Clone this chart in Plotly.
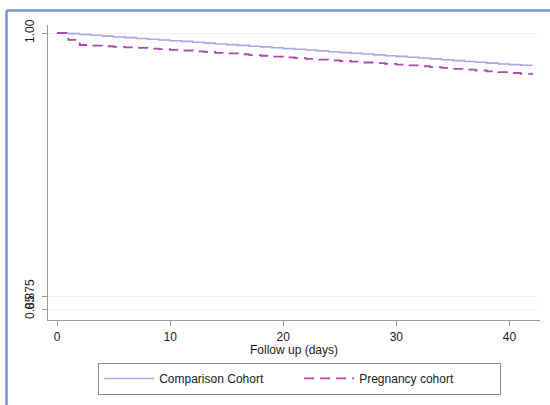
import plotly.graph_objects as go

days = list(range(0, 43))
comparison = [1.0000, 0.9997, 0.9993, 0.9989, 0.9985, 0.9981, 0.9978, 0.9974, 0.9970, 0.9967,
              0.9963, 0.9960, 0.9956, 0.9952, 0.9948, 0.9945, 0.9941, 0.9937, 0.9934, 0.9930,
              0.9926, 0.9923, 0.9919, 0.9915, 0.9911, 0.9907, 0.9904, 0.9900, 0.9896, 0.9892,
              0.9889, 0.9885, 0.9881, 0.9877, 0.9873, 0.9869, 0.9865, 0.9861, 0.9857, 0.9853,
              0.9850, 0.9847, 0.9844]
pregnancy = [1.0000, 0.9967, 0.9943, 0.9940, 0.9937, 0.9934, 0.9932, 0.9929, 0.9926, 0.9923,
             0.9920, 0.9917, 0.9913, 0.9910, 0.9906, 0.9903, 0.9899, 0.9895, 0.9892, 0.9888,
             0.9884, 0.9881, 0.9877, 0.9874, 0.9870, 0.9867, 0.9864, 0.9860, 0.9857, 0.9853,
             0.9850, 0.9846, 0.9842, 0.9838, 0.9834, 0.9830, 0.9826, 0.9822, 0.9818, 0.9814,
             0.9810, 0.9806, 0.9802]

y_tickvals = [0.8689, 0.875, 1.0]
y_ticktext = ["0.85", "0.875", "1.00"]
x_tickvals = [0, 10, 20, 30, 40]

font = "Liberation Sans, Arial, sans-serif"

fig = go.Figure()
fig.add_trace(go.Scatter(x=days, y=comparison, mode="lines", line_shape="hv",
                         name="Comparison Cohort",
                         line=dict(color="#a9a6e6", width=1.6)))
fig.add_trace(go.Scatter(x=days, y=pregnancy, mode="lines", line_shape="hv",
                         name="Pregnancy cohort",
                         line=dict(color="#b048b4", width=1.8, dash="10px,6px")))

fig.update_layout(
    width=550, height=405,
    margin=dict(l=48, r=10, t=25, b=83),
    paper_bgcolor="white", plot_bgcolor="white",
    font=dict(family=font, size=12, color="#1a1a1a"),
    showlegend=True,
    legend=dict(orientation="h", x=0.1016, xanchor="left", y=-0.145, yanchor="top",
                bordercolor="#8a8a8a", borderwidth=1.2, font=dict(size=12),
                entrywidth=135, entrywidthmode="pixels", itemwidth=50,
                tracegroupgap=0),
    xaxis=dict(range=[-0.8, 42.7], tickvals=x_tickvals, ticks="outside", ticklen=5,
               tickcolor="#999", showline=True, linecolor="#999", linewidth=1.2,
               showgrid=False, zeroline=False,
               title=dict(text="Follow up (days)", font=dict(size=12), standoff=2),
               tickfont=dict(size=12)),
    yaxis=dict(range=[0.8637, 1.0038], tickvals=y_tickvals, ticktext=y_ticktext,
               ticks="outside", ticklen=5, tickcolor="#999", tickangle=-90,
               showline=True, linecolor="#999", linewidth=1.2,
               showgrid=True, gridcolor="#eef4f4", gridwidth=1, zeroline=False,
               tickfont=dict(size=12), ticklabelstandoff=3),
    shapes=[
        dict(type="line", xref="paper", yref="paper", x0=-0.0843, x1=-0.0843,
             y0=1.0488, y1=-0.40, line=dict(color="#6f93d6", width=2.5)),
        dict(type="line", xref="paper", yref="paper", x0=-0.0843, x1=1.05,
             y0=1.0488, y1=1.0488, line=dict(color="#6f93d6", width=2.5)),
    ],
)

fig.write_html("out.html")
